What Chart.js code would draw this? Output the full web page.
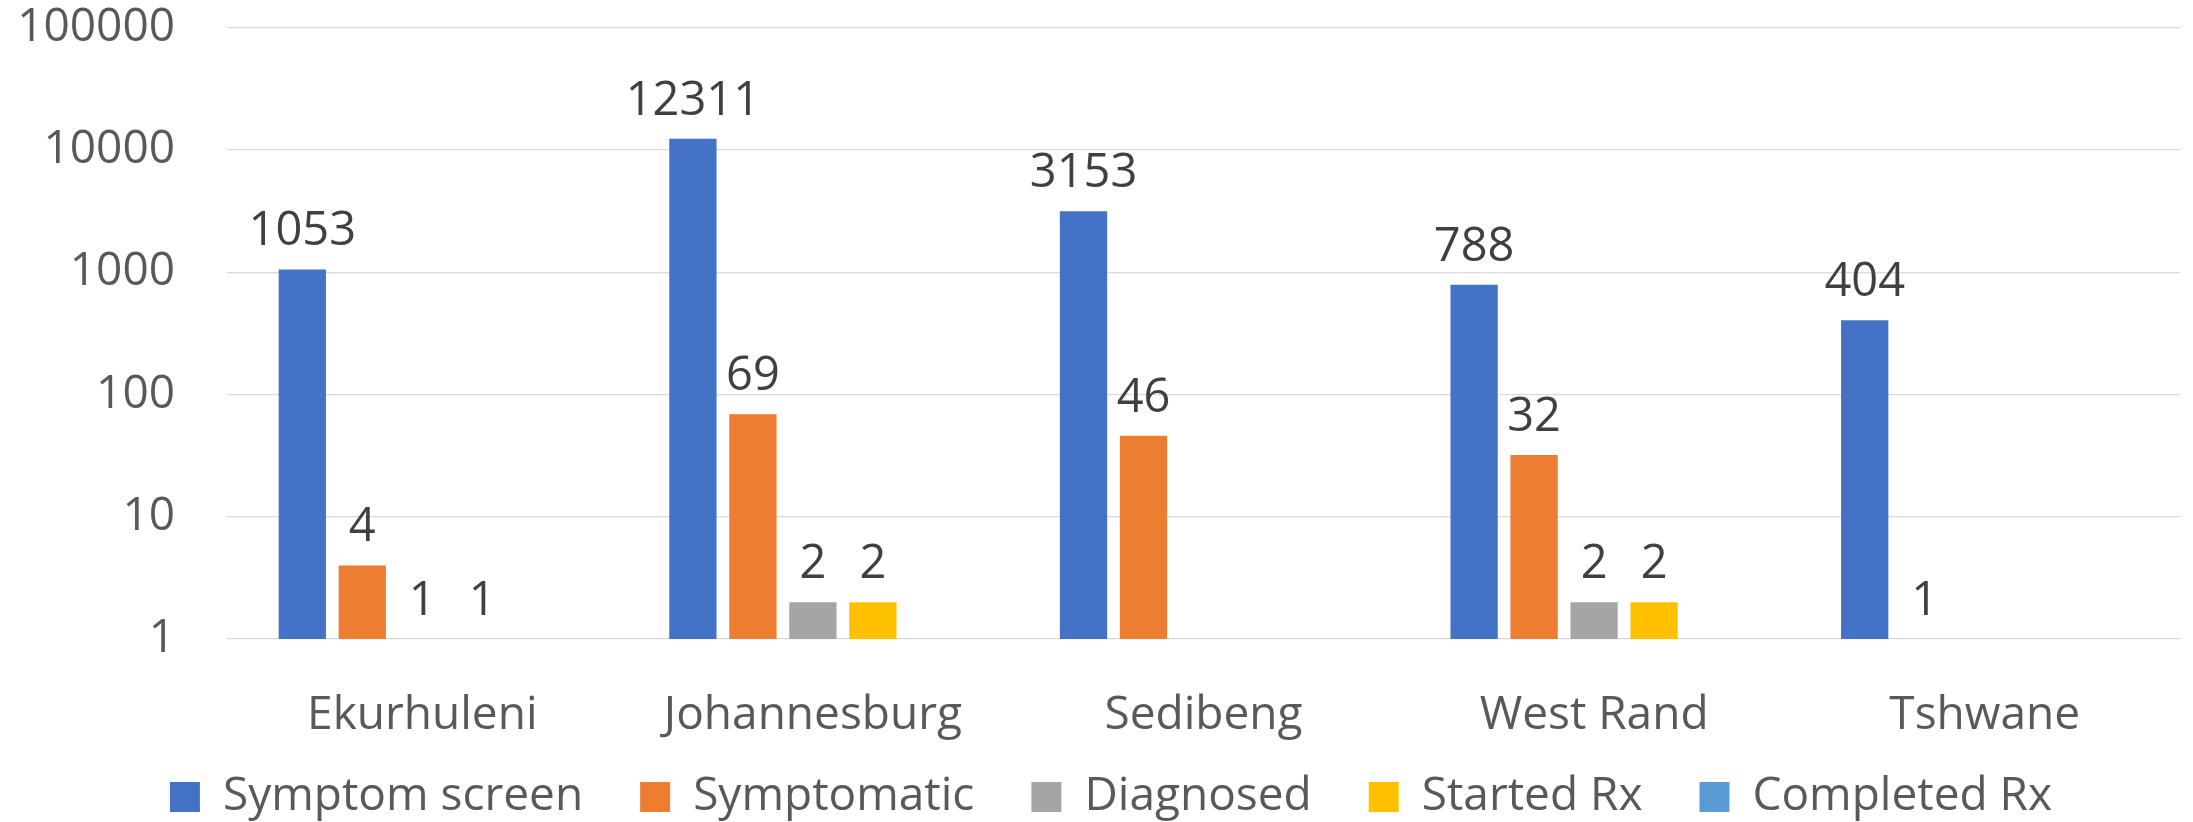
<!DOCTYPE html>
<html>
<head>
<meta charset="utf-8">
<script src="https://cdn.jsdelivr.net/npm/chart.js@4/dist/chart.umd.min.js"></script>
<style>
  html, body { margin: 0; padding: 0; background: #ffffff; }
  #wrap { width: 2193px; height: 822px; position: relative; }
</style>
</head>
<body>
<div id="wrap"><canvas id="bars"></canvas></div>
<script>
// districts along the x axis
var districts = ['Ekurhuleni', 'Johannesburg', 'Sedibeng', 'West Rand', 'Tshwane'];

// counts per step of the cascade (null = nothing shown)
var symptomScreen = [1053, 12311, 3153, 788, 404];
var symptomatic = [4, 69, 46, 32, 1];
var diagnosed = [1, 2, null, 2, null];
var startedRx = [1, 2, null, 2, null];
var completedRx = [null, null, null, null, null];

// log axis ticks
var yTicks = [1, 10, 100, 1000, 10000, 100000];

var fontName = '"Open Sans", "DejaVu Sans", sans-serif';

// draws the number above each bar
var valueLabels = {
    id: 'valueLabels',
    afterDatasetsDraw: function(chart) {
        var ctx = chart.ctx;
        ctx.save();
        ctx.font = '47px ' + fontName;
        ctx.fillStyle = '#404040';
        ctx.textAlign = 'center';
        ctx.textBaseline = 'alphabetic';
        chart.data.datasets.forEach(function(ds, i) {
            chart.getDatasetMeta(i).data.forEach(function(bar, j) {
                var v = ds.data[j];
                if (v === null || v === undefined) return;
                ctx.fillText(String(v), bar.x, bar.y - 24);
            });
        });
        ctx.restore();
    }
};

// axis labels get clipped to the axis box, so widen the boxes after layout
var unclipLabels = {
    id: 'unclipLabels',
    afterLayout: function(chart) {
        chart.scales.y.left = 0;
        chart.scales.x.bottom = chart.height;
    }
};

var ctx = document.getElementById('bars').getContext('2d');

var myBarChart = new Chart(ctx, {
    type: 'bar',
    data: {
        labels: districts,
        datasets: [
            { label: 'Symptom screen', data: symptomScreen, backgroundColor: '#4472C4' },
            { label: 'Symptomatic', data: symptomatic, backgroundColor: '#ED7D31' },
            { label: 'Diagnosed', data: diagnosed, backgroundColor: '#A5A5A5' },
            { label: 'Started Rx', data: startedRx, backgroundColor: '#FFC000' },
            { label: 'Completed Rx', data: completedRx, backgroundColor: '#5B9BD5' }
        ]
    },
    options: {
        responsive: true,
        maintainAspectRatio: false,
        animation: false,
        datasets: {
            bar: {
                categoryPercentage: 0.768,
                barPercentage: 0.788,
                borderWidth: 0
            }
        },
        layout: {
            padding: { left: 42, right: 13, top: 27, bottom: -8 }
        },
        scales: {
            x: {
                grid: { display: false },
                border: { display: false },
                ticks: {
                    color: '#595959',
                    font: { family: fontName, size: 46 },
                    padding: 41,
                    maxRotation: 0,
                    autoSkip: false
                },
                afterFit: function(scale) {
                    scale.height = 78;
                }
            },
            y: {
                type: 'logarithmic',
                min: 1,
                max: 100000,
                border: { display: false },
                grid: {
                    color: '#d9d9d9',
                    lineWidth: 1.3,
                    drawTicks: true,
                    tickLength: 52,
                    tickColor: 'rgba(0,0,0,0)'
                },
                ticks: {
                    color: '#595959',
                    font: { family: fontName, size: 46 },
                    padding: 0,
                    callback: function(value) { return String(value); }
                },
                afterBuildTicks: function(scale) {
                    scale.ticks = yTicks.map(function(v) { return { value: v }; });
                },
                afterFit: function(scale) {
                    scale.width = 185;
                }
            }
        },
        plugins: {
            legend: {
                position: 'bottom',
                labels: {
                    color: '#595959',
                    font: { family: fontName, size: 46 },
                    boxWidth: 30,
                    boxHeight: 30,
                    padding: 57
                }
            },
            tooltip: { enabled: false }
        }
    },
    plugins: [valueLabels, unclipLabels]
});
</script>
</body>
</html>
